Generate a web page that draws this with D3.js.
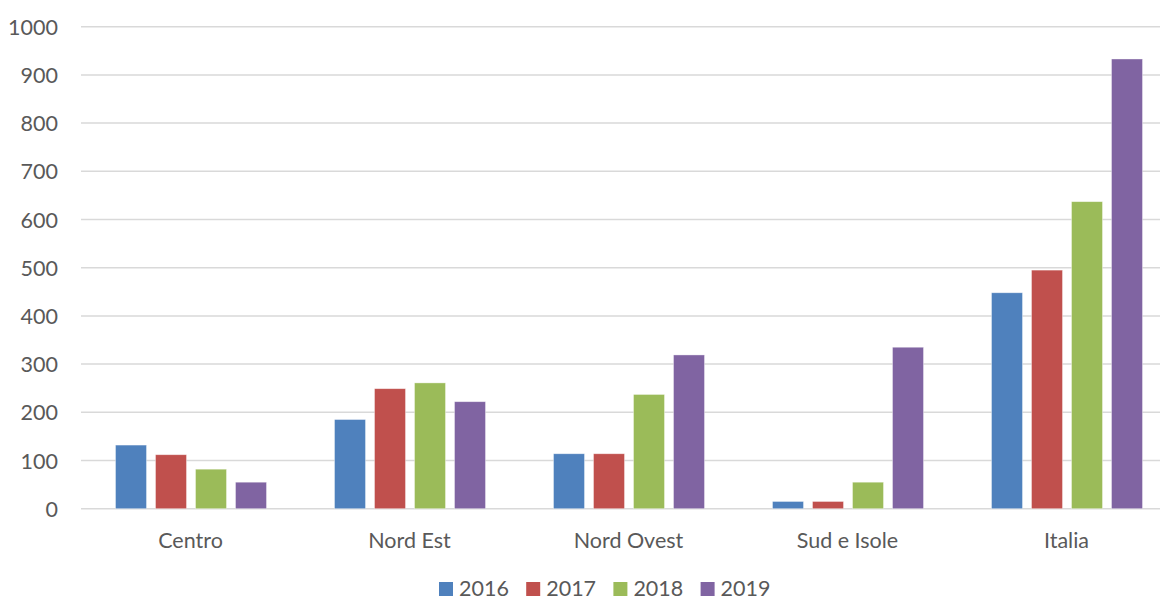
<!DOCTYPE html>
<html>
<head>
<meta charset="utf-8">
<script src="https://cdn.jsdelivr.net/npm/d3@7"></script>
<style>
  body { margin: 0; background: #fff; }
  text { font-family: Lato, "Open Sans", sans-serif; fill: #595959; }
</style>
</head>
<body>
<script>
// data
var categories = ["Centro", "Nord Est", "Nord Ovest", "Sud e Isole", "Italia"];
var years = ["2016", "2017", "2018", "2019"];
var v2016 = [132, 185, 114, 15, 448];
var v2017 = [112, 249, 114, 15, 495];
var v2018 = [82, 261, 237, 55, 637];
var v2019 = [55, 222, 319, 335, 933];
var yTicks = [0, 100, 200, 300, 400, 500, 600, 700, 800, 900, 1000];
var colors = ["#4F81BD", "#C0504D", "#9BBB59", "#8064A2"];

var series = [v2016, v2017, v2018, v2019];

var width = 1160, height = 601;
var fontSize = "21.5px";

var svg = d3.select("body").append("svg")
  .attr("width", width)
  .attr("height", height);

var x0 = d3.scaleBand()
  .domain(categories)
  .range([81, 1176]);

var x1 = d3.scaleBand()
  .domain(years)
  .range([34.5, 185.5])
  .paddingInner(0.225);

var y = d3.scaleLinear()
  .domain([0, 1000])
  .range([508.7, 26.7]);

// gridlines
svg.append("g")
  .selectAll("line")
  .data(yTicks)
  .enter().append("line")
  .attr("x1", 81)
  .attr("x2", width)
  .attr("y1", function(d) { return y(d); })
  .attr("y2", function(d) { return y(d); })
  .attr("stroke", "#d9d9d9")
  .attr("stroke-width", 1.5);

// y axis labels
var yAxis = svg.append("g")
  .attr("transform", "translate(58,0)")
  .call(d3.axisLeft(y).tickValues(yTicks).tickFormat(d3.format("d")).tickSize(0).tickPadding(0));
yAxis.select(".domain").remove();
yAxis.selectAll("text")
  .style("font-size", fontSize)
  .attr("fill", "#595959")
  .attr("dy", "0.35em");

// bars
var groups = svg.append("g")
  .selectAll("g")
  .data(categories)
  .enter().append("g")
  .attr("transform", function(d) { return "translate(" + x0(d) + ",0)"; });

groups.selectAll("rect")
  .data(function(d, i) {
    return years.map(function(yr, j) { return {year: yr, value: series[j][i], c: colors[j]}; });
  })
  .enter().append("rect")
  .attr("x", function(d) { return x1(d.year); })
  .attr("width", x1.bandwidth())
  .attr("y", function(d) { return y(d.value); })
  .attr("height", function(d) { return y(0) - y(d.value); })
  .attr("fill", function(d) { return d.c; })
  .attr("stroke", "rgba(255,255,255,0.5)")
  .attr("stroke-width", 0.75);

// x axis labels
var xAxis = svg.append("g")
  .attr("transform", "translate(0," + y(0) + ")")
  .call(d3.axisBottom(x0).tickSize(0).tickPadding(0));
xAxis.select(".domain").remove();
xAxis.selectAll("text")
  .style("font-size", fontSize)
  .attr("fill", "#595959")
  .attr("y", 39)
  .attr("dy", 0);

// legend
var legend = svg.append("g")
  .selectAll("g")
  .data(years)
  .enter().append("g")
  .attr("transform", function(d, i) { return "translate(" + (439 + i * 87.2) + ",582)"; });

legend.append("rect")
  .attr("width", 14)
  .attr("height", 14)
  .attr("fill", function(d, i) { return colors[i]; });

legend.append("text")
  .attr("x", 20)
  .attr("y", 14)
  .style("font-size", fontSize)
  .text(function(d) { return d; });
</script>
</body>
</html>
